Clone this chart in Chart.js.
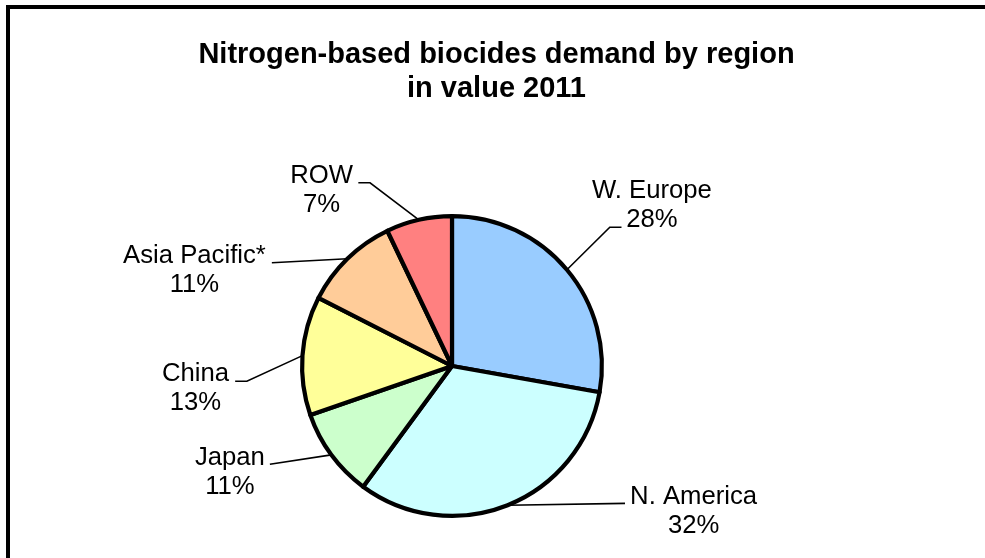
<!DOCTYPE html>
<html>
<head>
<meta charset="utf-8">
<script src="https://cdn.jsdelivr.net/npm/chart.js@4.4.0/dist/chart.umd.min.js"></script>
<style>
  html, body { margin: 0; padding: 0; background: #ffffff; }
  #wrap { width: 985px; height: 558px; }
</style>
</head>
<body>
<div id="wrap"><canvas id="c" width="985" height="558"></canvas></div>
<script>
// ---- data ----
const categories = ["W. Europe", "N. America", "Japan", "China", "Asia Pacific*", "ROW"];
const values = [27.8, 32.3, 9.6, 12.8, 10.4, 7.1];
const percentLabels = ["28%", "32%", "11%", "13%", "11%", "7%"];
const titleLines = ["Nitrogen-based biocides demand by region", "in value 2011"];
const sliceColors = ["#99CCFF", "#CCFFFF", "#CCFFCC", "#FFFF99", "#FFCC99", "#FF8080"];

// label placement relative to each slice's outer-edge midpoint (elbow, end of leader, text anchor)
const labelLayout = [
  { elbow: [42.9, -42.5], end: [54.6, -42.5], text: [85, -72.1] },
  { elbow: null,          end: [117.4, -1.8], text: [186, -1.3] },
  { elbow: null,          end: [-61.4, 9.3],  text: [-101.4, 9.8] },
  { elbow: [-55.6, 25.6], end: [-67.3, 25.6], text: [-107, 25.6] },
  { elbow: null,          end: [-75.5, 4.1],  text: [-152.9, 4.1] },
  { elbow: [-48.8, -37],  end: [-60.5, -37],  text: [-97.3, -37] }
];

const FONT = '"Liberation Sans", Arial, sans-serif';

const framePlugin = {
  id: 'frame',
  beforeDraw(chart) {
    const ctx = chart.ctx;
    ctx.save();
    ctx.fillStyle = '#ffffff';
    ctx.fillRect(0, 0, chart.width, chart.height);
    ctx.strokeStyle = '#000000';
    ctx.lineWidth = 4;
    ctx.beginPath();
    ctx.moveTo(8, chart.height + 5);
    ctx.lineTo(8, 7);
    ctx.lineTo(chart.width + 5, 7);
    ctx.stroke();
    // title
    ctx.fillStyle = '#000000';
    ctx.font = 'bold 29px ' + FONT;
    ctx.textAlign = 'center';
    ctx.textBaseline = 'alphabetic';
    ctx.fillText(titleLines[0], 496.5, 63.3);
    ctx.fillText(titleLines[1], 496.5, 96.7);
    ctx.restore();
  }
};

const labelPlugin = {
  id: 'pieLabels',
  afterDatasetsDraw(chart) {
    const ctx = chart.ctx;
    const meta = chart.getDatasetMeta(0);
    ctx.save();
    meta.data.forEach((arc, i) => {
      const p = arc.getProps(['x', 'y', 'startAngle', 'endAngle', 'outerRadius'], true);
      const mid = (p.startAngle + p.endAngle) / 2;
      const ex = p.x + Math.cos(mid) * p.outerRadius;
      const ey = p.y + Math.sin(mid) * p.outerRadius;
      const L = labelLayout[i];
      ctx.strokeStyle = '#000000';
      ctx.lineWidth = 1.6;
      ctx.beginPath();
      ctx.moveTo(ex, ey);
      if (L.elbow) ctx.lineTo(ex + L.elbow[0], ey + L.elbow[1]);
      ctx.lineTo(ex + L.end[0], ey + L.end[1]);
      ctx.stroke();
      ctx.fillStyle = '#000000';
      ctx.font = '25.7px ' + FONT;
      ctx.textAlign = 'center';
      ctx.textBaseline = 'alphabetic';
      const tx = ex + L.text[0];
      const ty = ey + L.text[1];
      ctx.fillText(categories[i], tx, ty);
      ctx.fillText(percentLabels[i], tx, ty + 29);
    });
    ctx.restore();
  }
};

new Chart(document.getElementById('c'), {
  type: 'pie',
  data: {
    labels: categories,
    datasets: [{
      data: values,
      backgroundColor: sliceColors,
      borderColor: '#000000',
      borderWidth: 4.2,
      hoverBorderWidth: 4.2,
      borderJoinStyle: 'round'
    }]
  },
  options: {
    responsive: false,
    devicePixelRatio: 1,
    animation: false,
    layout: { padding: { left: 300, right: 381, top: 214, bottom: 40 } },
    plugins: {
      legend: { display: false },
      tooltip: { enabled: false },
      title: { display: false }
    }
  },
  plugins: [framePlugin, labelPlugin]
});
</script>
</body>
</html>
